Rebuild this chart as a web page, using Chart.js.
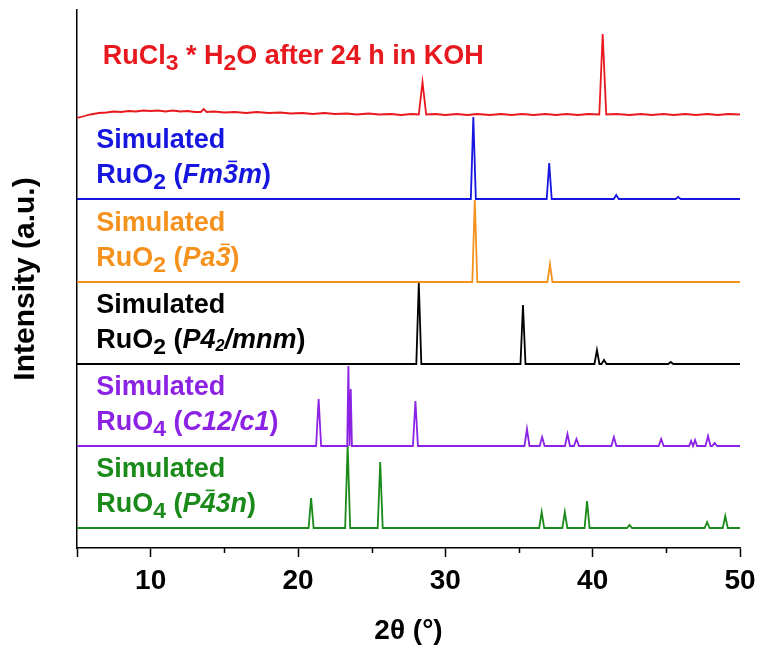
<!DOCTYPE html>
<html>
<head>
<meta charset="utf-8">
<script src="https://cdn.jsdelivr.net/npm/chart.js@4.4.1/dist/chart.umd.min.js"></script>
<style>
  html, body { margin: 0; padding: 0; background: #fff; }
  #wrap { width: 759px; height: 648px; }
</style>
</head>
<body>
<div id="wrap"><canvas id="xrdChart" width="759" height="648"></canvas></div>
<script>
// 2θ axis
const xTicks = [10, 20, 30, 40, 50];

// vertical offset of each pattern (a.u.)
const offsets = { red: 433, blue: 349, orange: 266, black: 184, purple: 102, green: 20 };

// measured pattern, [2θ, intensity above its baseline]
const redTrace = [
  [5, -3], [5.4, -1.5], [5.9, 0.5], [6.5, 2], [7, 2.5], [7.5, 3.5], [8, 3], [8.5, 4], [9, 3.5],
  [9.5, 4.5], [10, 4], [10.5, 4.5], [11, 3.5], [11.5, 4.5], [12, 3.5], [12.5, 4], [13, 3],
  [13.4, 3], [13.6, 6], [13.8, 3], [14.3, 3.5], [15, 2.5], [15.7, 3], [16.5, 2], [17.2, 3],
  [18, 2], [18.8, 2.5], [19.5, 1.5], [20.3, 2], [21, 1], [21.8, 2], [22.5, 1], [23.3, 1.5],
  [24, 0.5], [24.8, 1.5], [25.5, 0.5], [26.3, 1], [27, 0], [27.7, 1], [28.2, 0.5], [28.45, 33],
  [28.7, 0.5], [29.3, 1], [30, 0], [30.8, 1], [31.5, 0], [32.2, 1], [33, 0], [33.8, 1],
  [34.5, 0], [35.2, 1], [36, 0], [36.8, 1], [37.5, 0], [38.2, 1], [39, 0], [39.7, 1],
  [40.45, 0.5], [40.68, 81], [40.92, 0.5], [41.6, 1], [42.5, 0], [43.3, 1], [44, 0],
  [44.8, 1], [45.5, 0], [46.3, 1], [47, 0], [47.8, 1], [48.5, 0], [49.2, 1], [50, 0.5]
];

// simulated patterns, [2θ, peak height]
const rutilePeaksFm3m = [[31.9, 82], [37.05, 36], [41.6, 4], [45.8, 2]];
const rutilePeaksPa3 = [[32.0, 82], [37.1, 18]];
const rutilePeaksP42 = [[28.2, 81], [35.27, 59], [40.29, 14], [40.77, 4], [45.3, 2]];
const ruo4PeaksC12 = [
  [21.4, 47], [23.42, 80], [23.58, 57], [27.97, 45], [35.54, 17], [36.57, 9], [38.29, 12],
  [38.9, 7], [41.44, 9], [44.65, 7], [46.68, 5], [46.95, 6], [47.83, 10], [48.28, 3]
];
const ruo4PeaksP43n = [
  [20.89, 30], [23.37, 83], [25.58, 66], [36.54, 16], [38.11, 16], [39.62, 27],
  [42.5, 3], [47.77, 6], [49.0, 12]
];

const colors = {
  red: '#e8191e', blue: '#1616e0', orange: '#f5921e',
  black: '#000000', purple: '#8b22e4', green: '#1a8a1a'
};

function traceToPoints(trace, offset) {
  return trace.map(([x, y]) => ({ x, y: offset + y }));
}

// each stick peak becomes a narrow spike sitting on a flat baseline
function peaksToPoints(peaks, offset) {
  const pts = [{ x: 5, y: offset }];
  peaks.forEach(([pos, h], i) => {
    const prev = i > 0 ? peaks[i - 1][0] : -Infinity;
    const next = i < peaks.length - 1 ? peaks[i + 1][0] : Infinity;
    const w = Math.min(0.17, (pos - prev) / 2, (next - pos) / 2);
    pts.push({ x: pos - w, y: offset }, { x: pos, y: offset + h }, { x: pos + w, y: offset });
  });
  pts.push({ x: 50, y: offset });
  return pts;
}

function series(data, color) {
  return { data, borderColor: color, borderWidth: 1.8, pointRadius: 0, tension: 0, fill: false };
}

// in-plot labels: segments with italic / subscript / overbar flags
const S = (t, o = {}) => Object.assign({ t }, o);
const plotLabels = [
  { color: colors.red, x: 6.75, key: 'red', lines: [
    [51, [S('RuCl'), S('3', { sub: true }), S(' * H'), S('2', { sub: true }), S('O after 24 h in KOH')]]
  ] },
  { color: colors.blue, x: 6.3, key: 'blue', lines: [
    [51, [S('Simulated')]],
    [16, [S('RuO'), S('2', { sub: true }), S(' ('), S('Fm', { it: true }), S('3', { it: true, bar: true }), S('m', { it: true }), S(')')]]
  ] },
  { color: colors.orange, x: 6.3, key: 'orange', lines: [
    [51, [S('Simulated')]],
    [16, [S('RuO'), S('2', { sub: true }), S(' ('), S('Pa', { it: true }), S('3', { it: true, bar: true }), S(')')]]
  ] },
  { color: colors.black, x: 6.3, key: 'black', lines: [
    [51, [S('Simulated')]],
    [16, [S('RuO'), S('2', { sub: true }), S(' ('), S('P4', { it: true }), S('2', { it: true, small: true }), S('/mnm', { it: true }), S(')')]]
  ] },
  { color: colors.purple, x: 6.3, key: 'purple', lines: [
    [51, [S('Simulated')]],
    [16, [S('RuO'), S('4', { sub: true }), S(' ('), S('C12/c1', { it: true }), S(')')]]
  ] },
  { color: colors.green, x: 6.3, key: 'green', lines: [
    [51, [S('Simulated')]],
    [16, [S('RuO'), S('4', { sub: true }), S(' ('), S('P', { it: true }), S('4', { it: true, bar: true }), S('3n', { it: true }), S(')')]]
  ] }
];

const FONT = '"Liberation Sans", Arial, sans-serif';
const LABEL_SIZE = 27;

function drawRichLine(ctx, segs, x, y, size) {
  let cx = x;
  for (const s of segs) {
    let fs = size, dy = 0;
    if (s.sub) { fs = size * 0.85; dy = size * 0.24; }
    if (s.small) { fs = size * 0.6; dy = size * 0.12; }
    ctx.font = (s.it ? 'italic ' : '') + 'bold ' + fs + 'px ' + FONT;
    ctx.fillText(s.t, cx, y + dy);
    const w = ctx.measureText(s.t).width;
    if (s.bar) {
      const top = y - size * 0.8;
      ctx.save();
      ctx.lineWidth = 1.6;
      ctx.beginPath();
      ctx.moveTo(cx + w * 0.35, top);
      ctx.lineTo(cx + w * 0.95, top);
      ctx.stroke();
      ctx.restore();
    }
    cx += w;
  }
}

const richLabels = {
  id: 'richLabels',
  afterDatasetsDraw(chart) {
    const { ctx, scales } = chart;
    ctx.save();
    ctx.textBaseline = 'alphabetic';
    ctx.textAlign = 'left';
    plotLabels.forEach(lbl => {
      ctx.fillStyle = lbl.color;
      ctx.strokeStyle = lbl.color;
      const px = scales.x.getPixelForValue(lbl.x);
      lbl.lines.forEach(([rise, segs]) => {
        const py = scales.y.getPixelForValue(offsets[lbl.key] + rise);
        drawRichLine(ctx, segs, px, py, LABEL_SIZE);
      });
    });
    ctx.restore();
  }
};

// shorter marks at the odd multiples of 5
const minorTicks = {
  id: 'minorTicks',
  afterDraw(chart) {
    const { ctx, scales, chartArea } = chart;
    ctx.save();
    ctx.strokeStyle = '#000';
    ctx.lineWidth = 1.5;
    for (let v = 15; v < 50; v += 10) {
      const px = Math.round(scales.x.getPixelForValue(v)) + 0.5;
      ctx.beginPath();
      ctx.moveTo(px, chartArea.bottom);
      ctx.lineTo(px, chartArea.bottom + 5);
      ctx.stroke();
    }
    ctx.restore();
  }
};

document.addEventListener('DOMContentLoaded', () => {
  const ctx = document.getElementById('xrdChart').getContext('2d');
  new Chart(ctx, {
    type: 'line',
    data: {
      datasets: [
        series(traceToPoints(redTrace, offsets.red), colors.red),
        series(peaksToPoints(rutilePeaksFm3m, offsets.blue), colors.blue),
        series(peaksToPoints(rutilePeaksPa3, offsets.orange), colors.orange),
        series(peaksToPoints(rutilePeaksP42, offsets.black), colors.black),
        series(peaksToPoints(ruo4PeaksC12, offsets.purple), colors.purple),
        series(peaksToPoints(ruo4PeaksP43n, offsets.green), colors.green)
      ]
    },
    options: {
      responsive: false,
      animation: false,
      layout: { padding: { left: 4, right: 19, top: 10, bottom: 0 } },
      plugins: { legend: { display: false }, tooltip: { enabled: false } },
      scales: {
        x: {
          type: 'linear',
          min: 5,
          max: 50,
          afterBuildTicks: axis => {
            axis.ticks = [5].concat(xTicks).map(v => ({ value: v }));
          },
          ticks: {
            callback: v => (xTicks.includes(v) ? v : ''),
            color: '#000',
            font: { family: FONT, size: 28, weight: 'bold' },
            padding: 7,
            maxRotation: 0
          },
          grid: { drawOnChartArea: false, drawTicks: true, tickLength: 9, tickWidth: 1.5, tickColor: '#000' },
          border: { display: true, color: '#000', width: 1.5 },
          title: {
            display: true,
            text: '2θ (°)',
            color: '#000',
            font: { family: FONT, size: 28, weight: 'bold' },
            padding: { top: 4, bottom: 0 }
          },
          afterFit: s => {
            s.height = 100;
            s.paddingLeft = 0;
            s.paddingRight = 0;
          }
        },
        y: {
          min: 0,
          max: 538,
          ticks: { display: false },
          grid: { display: false },
          border: { display: true, color: '#000', width: 1.5 },
          title: {
            display: true,
            text: 'Intensity (a.u.)',
            color: '#000',
            font: { family: FONT, size: 30, weight: 'bold' },
            padding: { top: 4, bottom: 4 }
          },
          afterFit: s => { s.width = 73; }
        }
      }
    },
    plugins: [richLabels, minorTicks]
  });
});
</script>
</body>
</html>
